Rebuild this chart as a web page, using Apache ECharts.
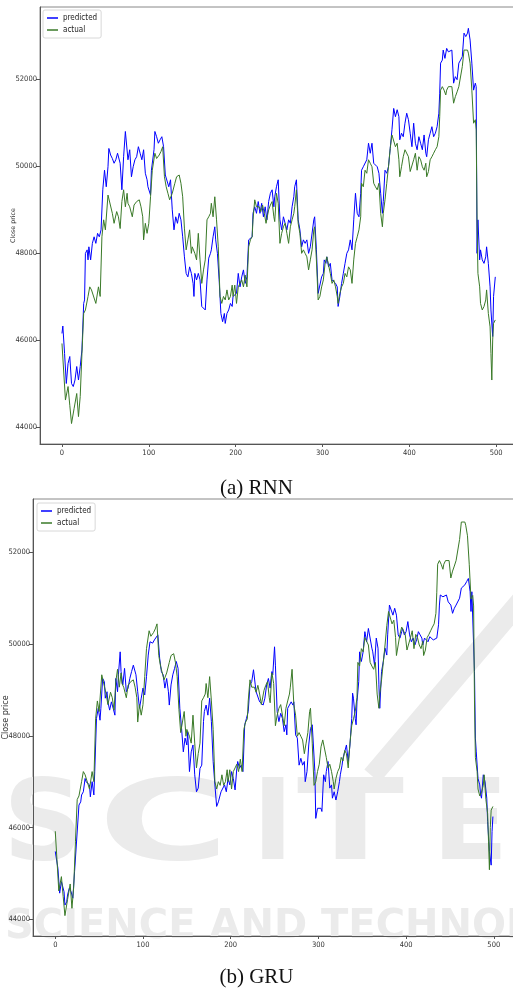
<!DOCTYPE html>
<html>
<head>
<meta charset="utf-8">
<script src="https://cdn.jsdelivr.net/npm/echarts@6/dist/echarts.min.js"></script>
<style>
  html, body { margin: 0; padding: 0; background: #fff; }
  #main { width: 513px; height: 992px; }
</style>
</head>
<body>
<div id="main"></div>
<script>
// day index, close price
const actual = [[0,45920],[4,44620],[7,44930],[9,44500],[11,44080],[14,44430],[17,44770],[19,44240],[21,44700],[23,45690],[25,46610],[27,46690],[30,47000],[32,47220],[34,47150],[36,47110],[39,46840],[42,47220],[44,47000],[46,48370],[48,48760],[50,48530],[53,49330],[55,49290],[58,48910],[60,48680],[63,48950],[65,48830],[67,48560],[69,49180],[71,49450],[73,49060],[75,49370],[76,49140],[78,49060],[81,48830],[83,49100],[86,49180],[89,49220],[91,49060],[93,48830],[94,48300],[96,48680],[98,48450],[100,48680],[102,49290],[104,49900],[107,50290],[109,50170],[112,50250],[114,50330],[116,50440],[118,49750],[120,49520],[122,49370],[124,49220],[127,49370],[130,49600],[132,49750],[135,49790],[137,49600],[139,49290],[141,48570],[143,48070],[145,48300],[147,48530],[149,47990],[150,48140],[153,47990],[155,47840],[157,48450],[159,47840],[161,47300],[163,47610],[165,47840],[167,48760],[169,48830],[171,48910],[172,49140],[174,48830],[176,49290],[178,48760],[180,48140],[182,47000],[184,46840],[186,47000],[188,46920],[190,47150],[192,46920],[194,47000],[196,47260],[197,47000],[199,47260],[201,46840],[203,47220],[205,47300],[207,47380],[209,47220],[211,47490],[213,47220],[215,48140],[217,48300],[219,48370],[220,48760],[222,49220],[224,49060],[227,49060],[229,48950],[231,49100],[233,48910],[235,48680],[238,48990],[240,49100],[242,49180],[244,48830],[245,48720],[247,49370],[249,49140],[251,48220],[253,48450],[255,48600],[257,48680],[259,48450],[261,48220],[263,48600],[265,48760],[267,48910],[268,49060],[270,49450],[272,48680],[274,48450],[276,47990],[278,48070],[280,47990],[282,47910],[284,47610],[286,47840],[288,48070],[290,48530],[291,48600],[293,47840],[295,46920],[297,47000],[299,47220],[301,47380],[303,47760],[305,47910],[307,47910],[309,47530],[311,47300],[313,47380],[315,47220],[317,47000],[318,46840],[320,47070],[322,47220],[324,47300],[326,47530],[328,47450],[330,47680],[332,47610],[334,47300],[336,47840],[338,48220],[340,48370],[342,48530],[344,48830],[345,49600],[347,49520],[349,49900],[351,49830],[353,50140],[355,50060],[357,49980],[359,49600],[361,49520],[363,49450],[365,49600],[367,48910],[369,48600],[370,48910],[372,49220],[374,49600],[376,49980],[378,50400],[380,50710],[382,50670],[384,50440],[386,50520],[388,50140],[389,49750],[391,49980],[393,50210],[395,50370],[397,50330],[399,50210],[401,49870],[403,49830],[405,50140],[407,50290],[409,49900],[411,50210],[413,50140],[415,49980],[417,49900],[419,50060],[420,49750],[422,49870],[424,50140],[426,50210],[428,50290],[430,50370],[432,50440],[434,50670],[435,51130],[436,51740],[438,51820],[440,51740],[442,51630],[443,51740],[445,51820],[447,51780],[449,51820],[451,51440],[453,51590],[455,51700],[457,51820],[459,51860],[461,52280],[463,52660],[465,52620],[467,52660],[468,52590],[470,52360],[472,51740],[474,50980],[476,51060],[477,50830],[478,48760],[479,47530],[481,47220],[482,46840],[484,46690],[486,46770],[488,46920],[489,47150],[491,46610],[493,46300],[494,45690],[495,45080],[496,46000],[497,46380],[499,46460]]

const rnnPred = [[0,46150],[1,46320],[3,45690],[5,45000],[7,45460],[9,45620],[11,45000],[13,44930],[15,45080],[17,45390],[19,45080],[21,45390],[23,45770],[25,46840],[26,46920],[27,47990],[29,48070],[30,47840],[31,48140],[33,47840],[35,48220],[37,48370],[39,48220],[41,48450],[43,48370],[45,48530],[47,49450],[49,49900],[51,49520],[53,49980],[54,50400],[56,50250],[58,50170],[60,50060],[62,50140],[64,50290],[66,50330],[67,50060],[69,49450],[71,50210],[73,50790],[76,50140],[78,50370],[80,49750],[82,49980],[84,50140],[86,50210],[88,50440],[90,50290],[92,50140],[94,50370],[96,49830],[98,49680],[99,49520],[102,49330],[103,49900],[106,50370],[107,50790],[109,50670],[111,50520],[113,50600],[115,50670],[117,50440],[119,49790],[121,49750],[123,49520],[125,49680],[127,48990],[129,48530],[131,48830],[133,48680],[135,48910],[137,48760],[139,48370],[141,47910],[143,47530],[145,47450],[147,47680],[149,47530],[151,47300],[152,47000],[153,47530],[155,47380],[157,47530],[159,47380],[161,46770],[163,46800],[165,46690],[167,47380],[169,47880],[171,47990],[172,48070],[174,48370],[176,48600],[177,48300],[179,47990],[181,47380],[183,46610],[185,46420],[187,46610],[188,46380],[190,46610],[192,46690],[194,46840],[196,46770],[197,47000],[199,47000],[201,47070],[203,47530],[205,47220],[207,47450],[209,47610],[211,47300],[213,47450],[215,48300],[217,48330],[219,48370],[220,48910],[222,49060],[224,48910],[226,49180],[228,48910],[230,49140],[232,48830],[234,49060],[236,48760],[238,49180],[240,49370],[242,49450],[244,49060],[245,49290],[247,49520],[249,49680],[251,48760],[253,48530],[255,48830],[257,48680],[259,48530],[261,48760],[263,48680],[265,49060],[267,49290],[268,49520],[270,49680],[272,48760],[274,48530],[276,48140],[278,48300],[280,48220],[282,48300],[284,47990],[286,48140],[288,48140],[290,48760],[291,48830],[293,48070],[295,47070],[297,47070],[299,47450],[301,47530],[302,47840],[304,47760],[305,47910],[307,47680],[309,47760],[311,47380],[313,47380],[315,47300],[317,47220],[318,46770],[320,47000],[322,47300],[324,47530],[326,47760],[328,47990],[330,48070],[332,48300],[334,48070],[336,48760],[338,49370],[340,48910],[342,48830],[344,49370],[345,49900],[347,49980],[349,49980],[351,50140],[353,50520],[355,50290],[357,50520],[359,50060],[361,50020],[363,49980],[365,49830],[367,49370],[369,48910],[370,49180],[372,49900],[374,49830],[376,49980],[378,50400],[380,50830],[382,51320],[384,51130],[386,51290],[388,51130],[389,50600],[391,50750],[393,50670],[395,50980],[397,51210],[399,51060],[401,50750],[403,50440],[405,50980],[407,50520],[409,50370],[411,50670],[413,50520],[415,50370],[417,50710],[419,50290],[420,50210],[422,50600],[424,50750],[426,50900],[428,50670],[430,50750],[432,50900],[434,51210],[435,51670],[436,52360],[438,52430],[439,52660],[441,52470],[443,52700],[445,52620],[447,52590],[449,52660],[451,51900],[453,52050],[455,51980],[457,52360],[459,52430],[461,52510],[463,53050],[465,52970],[467,53050],[468,53160],[470,52890],[472,52360],[474,51740],[476,51900],[477,51820],[478,47990],[479,48760],[481,47840],[482,48070],[484,47840],[486,47760],[488,47910],[489,48140],[491,47760],[493,47220],[494,46690],[496,46080],[497,47000],[499,47450]]

const gruPred = [[0,45480],[1,45510],[3,45110],[5,44570],[7,44820],[9,44820],[10,44600],[11,44310],[13,44380],[14,44530],[16,44680],[18,44600],[20,44460],[22,45040],[24,45620],[25,45590],[27,46490],[29,46560],[30,46710],[32,46780],[34,47070],[35,47000],[37,47000],[39,46930],[40,46670],[42,47000],[44,46710],[45,47220],[47,48380],[49,48600],[51,48340],[52,48600],[54,49250],[56,49180],[57,48820],[59,48960],[60,48740],[62,48560],[64,48740],[66,48600],[68,48450],[69,49250],[71,48960],[72,49330],[74,49830],[75,49400],[77,49110],[79,49470],[81,48960],[83,49040],[85,49250],[87,49400],[89,49540],[91,49580],[92,49330],[94,48960],[96,48600],[98,48820],[100,49040],[102,48890],[104,49290],[106,49760],[108,50050],[110,50050],[111,50020],[113,50090],[115,50130],[117,50200],[119,49690],[121,49400],[123,49330],[125,49040],[127,49250],[129,48960],[130,48670],[132,49110],[134,49330],[136,49470],[138,49620],[140,49470],[142,48600],[144,48160],[146,47650],[148,47950],[150,47800],[151,48090],[153,47220],[155,47650],[157,47800],[159,47150],[161,46780],[163,46860],[165,47290],[167,47360],[169,48310],[170,48530],[172,48670],[174,48450],[176,48820],[178,48310],[180,47440],[182,46930],[184,46460],[186,46560],[188,46710],[189,46780],[191,46820],[193,46930],[195,46780],[197,47070],[199,46930],[201,47220],[203,47070],[205,46820],[207,47290],[208,47440],[210,47290],[212,47360],[214,47220],[216,48240],[218,48380],[220,48530],[222,49110],[224,49180],[226,49440],[228,49110],[229,48960],[231,49000],[233,48740],[235,48780],[237,48670],[239,48820],[241,49110],[243,49250],[245,49040],[246,49250],[247,49400],[248,49330],[250,49940],[251,49540],[253,48530],[255,48310],[257,48490],[259,48380],[261,48090],[263,48240],[264,48020],[265,48600],[267,48670],[269,48740],[271,48670],[272,48740],[274,48020],[276,47950],[278,47360],[280,47510],[282,47360],[284,47440],[285,47000],[287,47220],[289,47800],[291,48160],[293,48240],[294,48240],[296,47220],[297,46200],[299,46420],[301,46380],[303,46420],[304,46350],[306,47150],[308,47000],[309,47220],[311,47440],[313,46860],[315,46930],[316,46640],[318,46780],[320,46600],[322,46780],[324,47000],[325,47150],[327,47360],[328,47510],[330,47650],[332,47800],[334,47440],[336,47800],[338,48380],[339,48930],[340,48820],[342,48380],[343,48240],[344,48740],[346,49180],[347,49830],[349,49620],[351,49830],[353,50270],[355,50050],[357,50340],[359,50340],[361,49910],[362,49830],[364,49540],[366,50130],[368,49910],[369,49110],[370,48600],[372,49400],[374,49620],[376,49910],[378,49760],[379,50200],[381,50850],[383,50850],[385,50630],[387,50780],[389,50630],[391,50200],[393,50130],[395,50270],[396,50340],[398,50200],[400,50270],[402,50490],[404,50200],[406,50050],[408,50130],[410,49980],[412,50090],[414,50270],[416,50200],[418,50130],[419,49980],[421,50130],[423,50090],[425,50050],[427,50160],[429,50130],[431,50090],[433,50050],[435,50130],[437,50420],[438,50850],[439,51070],[440,51070],[442,51030],[444,51000],[446,51070],[448,50920],[449,50960],[451,50850],[453,50670],[455,50780],[457,50850],[459,50850],[461,51000],[463,51220],[465,51250],[467,51290],[469,51360],[471,51430],[473,51140],[474,50710],[475,51140],[476,51110],[478,49400],[479,47950],[480,47650],[482,47070],[484,46930],[485,46710],[486,46640],[488,47150],[490,47000],[492,46640],[493,46130],[495,45480],[497,45180],[498,45910],[499,46240]]

const xTicks = [0, 100, 200, 300, 400, 500]
const yTicks = [44000, 46000, 48000, 50000, 52000]
const captions = ['(a) RNN', '(b) GRU']
const seriesNames = ['predicted', 'actual']

const BLUE = '#0000ff'
const GREEN = '#3a7a28'
const tickFont = "'Liberation Sans Narrow', 'DejaVu Sans Condensed', sans-serif"
const axisCol = '#555'

const chart = echarts.init(document.getElementById('main'), null, { renderer: 'canvas' })

function plain (v) { return String(v) }

function xAx (gi, min, max) {
  return {
    type: 'value', gridIndex: gi, min: min, max: max,
    axisLine: { show: true, onZero: false, lineStyle: { color: axisCol, width: 1 } },
    axisTick: { show: true, length: 3, customValues: xTicks, lineStyle: { color: axisCol } },
    axisLabel: { customValues: xTicks, formatter: plain, fontSize: 7.5, fontFamily: tickFont, color: '#333', margin: 5 },
    splitLine: { show: false }
  }
}
function yAx (gi, min, max, nameSize, nameGap) {
  return {
    type: 'value', gridIndex: gi, min: min, max: max,
    name: 'Close price', nameLocation: 'middle', nameRotate: 90, nameGap: nameGap, nameMoveOverlap: false,
    nameTextStyle: { fontSize: nameSize, fontFamily: 'DejaVu Sans', color: '#333' },
    axisLine: { show: true, onZero: false, lineStyle: { color: axisCol, width: 1 } },
    axisTick: { show: true, length: 4, customValues: yTicks, lineStyle: { color: axisCol } },
    axisLabel: { customValues: yTicks, formatter: plain, fontSize: 7.5, fontFamily: tickFont, color: '#333', margin: 3 },
    splitLine: { show: false }
  }
}
function legendAt (left, top) {
  return {
    orient: 'vertical', left: left, top: top,
    data: seriesNames, icon: 'rect', itemWidth: 11, itemHeight: 1.5, itemGap: 2,
    padding: [3, 4], backgroundColor: '#fff', borderColor: '#d8d8d8', borderWidth: 1, borderRadius: 2,
    textStyle: { fontSize: 8, lineHeight: 10, fontFamily: tickFont, color: '#222' },
    selectedMode: false
  }
}
function line (name, data, color, gi) {
  return {
    name: name, type: 'line', data: data, xAxisIndex: gi, yAxisIndex: gi,
    symbol: 'none', lineStyle: { color: color, width: 1 }, itemStyle: { color: color },
    z: 3, silent: true
  }
}

const wmFill = '#ebebeb'
const wmFont = "bold 112px 'DejaVu Sans'"
const option = {
  animation: false,
  backgroundColor: '#fff',
  title: [
    { text: captions[0], left: 'center', top: 473, textStyle: { fontFamily: 'Liberation Serif', fontSize: 21, fontWeight: 'normal', color: '#111' } },
    { text: captions[1], left: 'center', top: 962, textStyle: { fontFamily: 'Liberation Serif', fontSize: 21, fontWeight: 'normal', color: '#111' } }
  ],
  legend: [legendAt(43, 10), legendAt(37, 503)],
  grid: [
    { left: 40, top: 7, width: 477, height: 437, outerBoundsMode: 'none', containLabel: false, show: true, borderColor: '#888', borderWidth: 1 },
    { left: 33, top: 499, width: 485, height: 437, outerBoundsMode: 'none', containLabel: false, show: true, borderColor: '#888', borderWidth: 1 }
  ],
  xAxis: [xAx(0, -25.3, 524), xAx(1, -25.4, 527.6)],
  yAxis: [yAx(0, 43610, 53650, 6.3, 24), yAx(1, 43636, 53162, 8, 23)],
  graphic: [
    // faint publisher watermark behind the lower chart
    { type: 'group', z: 0, silent: true, children: [
      { type: 'text', x: 3, y: 774, style: { text: 'S', font: wmFont, fill: wmFill } },
      { type: 'text', x: 98, y: 774, scaleX: 1.6, style: { text: 'C', font: wmFont, fill: wmFill } },
      { type: 'text', x: 252, y: 774, style: { text: 'I', font: wmFont, fill: wmFill } },
      { type: 'text', x: 297, y: 774, scaleX: 1.4, style: { text: 'T', font: wmFont, fill: wmFill } },
      { type: 'text', x: 432, y: 774, style: { text: 'E', font: wmFont, fill: wmFill } },
      { type: 'line', shape: { x1: 372, y1: 776, x2: 530, y2: 590 }, style: { stroke: wmFill, lineWidth: 20 } },
      { type: 'text', x: 5, y: 908, style: { text: 'SCIENCE AND TECHNOLOGY', font: "bold 40px 'DejaVu Sans'", fill: wmFill } }
    ] }
  ],
  series: [
    line(seriesNames[0], rnnPred, BLUE, 0),
    line(seriesNames[1], actual, GREEN, 0),
    line(seriesNames[0], gruPred, BLUE, 1),
    line(seriesNames[1], actual, GREEN, 1)
  ]
}
chart.setOption(option)
window.addEventListener('resize', () => { chart.resize() })
</script>
</body>
</html>
